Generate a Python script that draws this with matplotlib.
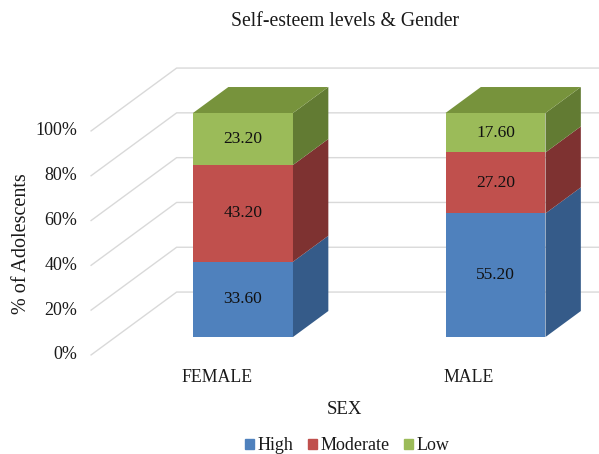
import matplotlib.pyplot as plt
from matplotlib.patches import Patch

plt.rcParams['font.family'] = ['Liberation Serif', 'DejaVu Serif']

categories = ['FEMALE', 'MALE']
series_names = ['High', 'Moderate', 'Low']
high = [33.6, 55.2]
moderate = [43.2, 27.2]
low = [23.2, 17.6]
yticks = [0, 20, 40, 60, 80, 100]
ytick_labels = ['0%', '20%', '40%', '60%', '80%', '100%']

front_colors = ['#4f81bd', '#c0504d', '#9bbb59']
side_colors = ['#355b89', '#7e3231', '#627b33']
top_colors = ['#3f6797', '#983f3d', '#77933c']

# fake 3d: shift per unit of depth
DX = 0.14
DY = 11.6
WALL_BACK = 1.73
FLOOR_FRONT = -0.69
LEFT = -0.505
HW = 0.198


def P(x, y, d):
    return x + d * DX, y + d * DY


fig = plt.figure(figsize=(5.99, 4.54), dpi=100)
ax = fig.add_axes([0, 0, 1, 1])
ax.set_xlim(-243 / 252.5, (599 - 243) / 252.5)
ax.set_ylim(-117 / 2.24, (454 - 117) / 2.24)
ax.axis('off')

# gridlines on the floor/wall
for v, lab in zip(yticks, ytick_labels):
    x0, y0 = P(LEFT, v, FLOOR_FRONT)
    x1, y1 = P(LEFT, v, WALL_BACK)
    x2, y2 = P(2.0, v, WALL_BACK)
    ax.plot([x0, x1, x2], [y0, y1, y2], color='#d9d9d9', lw=1.0, zorder=1)
    ax.annotate(lab, xy=(x0, y0), xytext=(-14, 0), textcoords='offset pixels',
                ha='right', va='center', fontsize=13, color='#1a1a1a')

series = [high, moderate, low]
for i, cat in enumerate(categories):
    bottom = 0
    for s, vals in enumerate(series):
        h = vals[i]
        top = bottom + h
        ax.bar(i, h, bottom=bottom, width=2 * HW, color=front_colors[s],
               linewidth=0, zorder=3)
        side = [P(i + HW, bottom, 0), P(i + HW, bottom, 1),
                P(i + HW, top, 1), P(i + HW, top, 0)]
        ax.fill([p[0] for p in side], [p[1] for p in side],
                color=side_colors[s], lw=0, zorder=3)
        if s == len(series) - 1:
            tp = [P(i - HW, top, 0), P(i - HW, top, 1),
                  P(i + HW, top, 1), P(i + HW, top, 0)]
            ax.fill([p[0] for p in tp], [p[1] for p in tp],
                    color=top_colors[s], lw=0, zorder=3)
        ax.text(i, bottom + h / 2, '%.2f' % h, ha='center', va='center',
                fontsize=12.5, color='#111111', zorder=4)
        bottom = top
    cx, cy = P(i, 0, FLOOR_FRONT)
    ax.annotate(cat, xy=(cx, cy), xytext=(-2, -23), textcoords='offset pixels',
                ha='center', va='center', fontsize=12.8, color='#1a1a1a')

mx, my = P(0.5, 0, FLOOR_FRONT)
ax.annotate('SEX', xy=(mx, my), xytext=(0, -55), textcoords='offset pixels',
            ha='center', va='center', fontsize=13.5, color='#1a1a1a')

fig.text(345 / 599, 1 - 22 / 454, 'Self-esteem levels & Gender', ha='center',
         va='center', fontsize=14.2, color='#1a1a1a')
fig.text(22 / 599, 1 - 244 / 454, '% of Adolescents', rotation=90, ha='center',
         va='center', fontsize=14.5, color='#1a1a1a')

handles = [Patch(color=c, label=n) for c, n in zip(front_colors, series_names)]
fig.legend(handles=handles, loc='center', bbox_to_anchor=(347 / 599, 1 - 446 / 454),
           ncol=3, frameon=False, fontsize=13, handlelength=0.5,
           handleheight=0.5, handletextpad=0.2, columnspacing=0.8,
           labelcolor='#1a1a1a')

fig.savefig('out.png', dpi=100)
